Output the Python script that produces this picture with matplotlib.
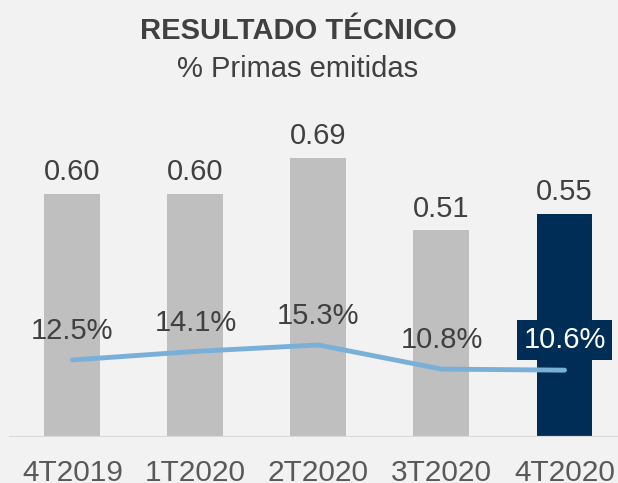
import matplotlib.pyplot as plt

categories = ["4T2019", "1T2020", "2T2020", "3T2020", "4T2020"]
bar_values = [0.60, 0.60, 0.69, 0.51, 0.55]
bar_labels = ["0.60", "0.60", "0.69", "0.51", "0.55"]
pct_values = [12.5, 14.1, 15.3, 10.8, 10.6]
pct_labels = ["12.5%", "14.1%", "15.3%", "10.8%", "10.6%"]

bg = "#F2F2F2"
grey_bar = "#BFBFBF"
navy = "#002D56"
line_blue = "#7AB0D8"
text_dark = "#404040"
text_mid = "#595959"

plt.rcParams["font.family"] = ["Liberation Sans", "DejaVu Sans"]

if __name__ == "__main__":
    fig = plt.figure(figsize=(6.18, 4.83), dpi=100, facecolor=bg)
    # axes spans pixel y 100..437, x 0..618
    ax = fig.add_axes([0, (483 - 437) / 483, 1, 337 / 483])
    ax.set_facecolor("none")
    x = list(range(len(categories)))

    colors = [grey_bar] * (len(x) - 1) + [navy]
    ax.bar(x, bar_values, width=0.455, color=colors, zorder=2)
    ax.set_xlim(-0.589, 4.435)
    ax.set_ylim(0, 0.832)

    for xi, v, lab in zip(x, bar_values, bar_labels):
        ax.annotate(lab, (xi, v), xytext=(0, 10), textcoords="offset points",
                    ha="center", va="baseline", fontsize=21, color=text_dark)

    # baseline
    ax.axhline(0, xmin=10 / 618, xmax=1, color="#D9D9D9", lw=1.6, zorder=3)

    for s in ax.spines.values():
        s.set_visible(False)
    ax.set_yticks([])
    ax.set_xticks(x)
    ax.set_xticklabels(categories, fontsize=21.5, color=text_mid)
    ax.tick_params(axis="x", length=0, pad=16)

    # percentage line on a second scale
    ax2 = ax.twinx()
    ax2.set_ylim(-1.87, 61.0)
    ax2.plot(x, pct_values, color=line_blue, lw=3.5, solid_capstyle="round",
             zorder=4)
    ax2.set_yticks([])
    for s in ax2.spines.values():
        s.set_visible(False)

    for i, (xi, v, lab) in enumerate(zip(x, pct_values, pct_labels)):
        if i == len(x) - 1:
            ax2.annotate(lab, (xi, v), xytext=(0, 16), textcoords="offset points",
                         ha="center", va="baseline", fontsize=21, color="white",
                         bbox=dict(boxstyle="square,pad=0.22", fc=navy, ec="none"))
        else:
            ax2.annotate(lab, (xi, v), xytext=(0, 15), textcoords="offset points",
                         ha="center", va="baseline", fontsize=21, color=text_dark)

    fig.text(0.482, 1 - 31 / 483, "RESULTADO TÉCNICO", ha="center", va="center",
             fontsize=21, fontweight="bold", color=text_dark)
    fig.text(0.482, 1 - 69 / 483, "% Primas emitidas", ha="center", va="center",
             fontsize=21, color=text_dark)

    fig.savefig("out.png", dpi=100, facecolor=bg)
    plt.close()
